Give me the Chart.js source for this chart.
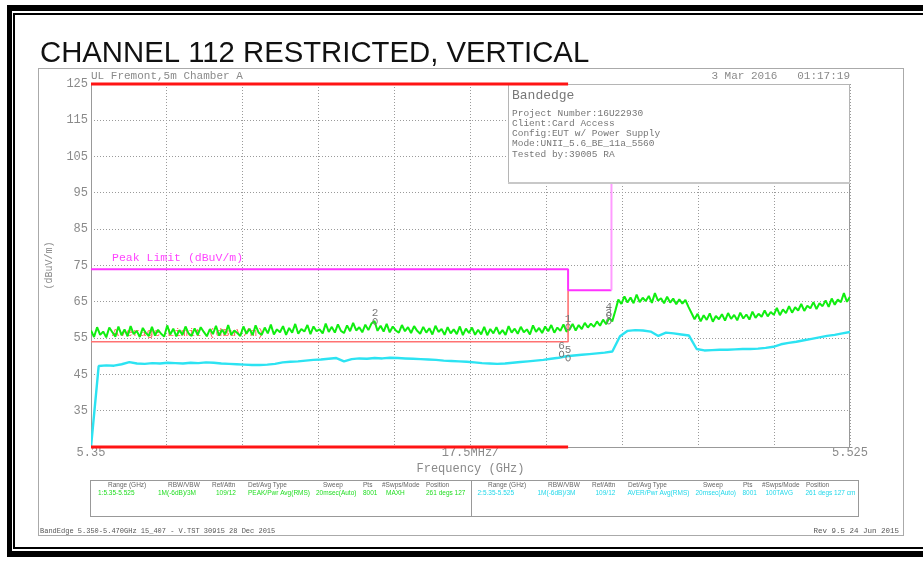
<!DOCTYPE html>
<html><head><meta charset="utf-8">
<script src="https://cdn.jsdelivr.net/npm/chart.js@4/dist/chart.umd.min.js"></script>
<style>html,body{margin:0;padding:0;background:#fff;}canvas{display:block;}</style>
</head><body>
<canvas id="c" width="923" height="562"></canvas>
<script>
// ---------------- DATA ----------------
const titleText = 'CHANNEL 112 RESTRICTED, VERTICAL';
const siteText = 'UL Fremont,5m Chamber A';
const dateText = '3 Mar 2016   01:17:19';
const yAxisTitle = '(dBuV/m)';
const xAxisTitle = 'Frequency (GHz)';
const yTickValues = [25, 35, 45, 55, 65, 75, 85, 95, 105, 115, 125];
const xTickValues = [5.35, 5.3675, 5.385, 5.4025, 5.42, 5.4375, 5.455, 5.4725, 5.49, 5.5075, 5.525];
const xTickLabels = ['5.35', '', '', '', '', '17.5MHz/', '', '', '', '', '5.525'];

const sweepStart = 5.35, sweepStop = 5.525;
// Peak (max hold) trace, dBuV/m, evenly spaced sweep points
const peakTrace = [
  57.1,55.3,58.0,55.9,56.8,55.2,57.9,56.6,55.4,58.2,
  55.8,57.4,55.5,58.3,56.1,57.0,55.3,57.8,56.4,55.6,
  58.1,55.7,57.3,56.2,55.4,58.5,56.0,57.6,55.5,57.2,
  55.9,58.2,56.3,55.6,57.7,55.8,58.0,56.7,55.5,57.5,
  56.1,58.4,55.7,57.3,56.0,58.6,55.9,57.1,56.4,55.6,
  58.2,56.2,57.6,55.8,58.5,56.5,55.9,57.9,56.3,58.7,
  56.0,57.4,56.6,58.3,55.9,57.8,56.5,58.9,56.2,57.5,
  56.8,58.6,56.1,58.2,56.9,57.4,56.3,59.0,56.7,58.1,
  56.5,58.8,57.0,56.4,58.5,56.9,59.2,57.1,58.0,56.6,
  58.7,57.2,59.0,59.7,57.0,58.4,56.8,58.9,56.6,58.2,
  57.1,56.5,58.6,56.9,58.0,56.4,58.3,57.0,56.2,58.1,
  56.5,57.7,56.0,58.4,56.7,57.5,55.9,58.0,56.3,57.4,
  56.1,58.2,55.8,57.6,56.4,57.9,55.9,57.3,56.0,58.1,
  55.8,57.5,56.3,58.0,56.1,57.2,55.9,58.3,56.5,57.6,
  56.2,58.1,56.6,57.4,56.0,58.5,56.7,57.8,56.4,58.2,
  56.9,58.6,56.5,57.9,57.0,58.8,56.8,57.4,58.9,57.1,
  58.6,57.5,59.2,57.9,59.0,58.1,59.6,58.4,60.1,58.8,
  60.6,59.6,62.5,65.6,64.4,66.5,64.8,66.2,64.6,67.0,
  64.9,66.1,65.2,66.6,64.7,67.4,65.3,66.0,64.6,66.4,
  64.8,65.9,64.3,65.7,64.5,65.5,63.6,61.9,60.2,61.7,
  59.6,61.3,60.0,61.8,59.5,61.1,60.2,61.6,59.8,61.9,
  60.3,61.4,59.9,62.0,60.4,61.5,60.1,62.3,60.6,61.7,
  60.9,62.6,61.0,62.2,61.4,63.3,61.3,62.9,61.9,63.8,
  62.0,63.5,62.6,64.4,62.5,63.9,63.2,64.9,63.0,64.6,
  63.8,65.4,63.6,65.9,64.2,65.6,64.9,67.4,65.0,66.4
];
// Average trace, dBuV/m, evenly spaced sweep points
const avgTrace = [
  25.0,47.3,47.5,47.4,47.8,48.4,48.0,47.9,48.1,48.0,
  48.2,48.1,48.0,48.2,48.1,48.3,48.2,48.0,47.9,47.8,
  47.7,47.6,47.6,47.7,47.9,48.3,48.5,48.6,48.8,49.0,
  49.1,49.3,49.5,48.6,49.2,49.4,49.3,49.5,49.4,49.6,
  49.5,49.4,49.3,49.2,49.1,49.0,48.8,48.7,48.6,48.5,
  48.3,48.1,48.0,47.9,48.0,48.2,48.4,48.6,48.8,49.0,
  49.3,49.6,50.0,50.2,50.4,50.6,50.8,51.0,51.3,55.5,
  57.0,57.2,57.1,56.8,55.6,56.5,56.3,56.0,55.7,52.0,
  51.6,51.7,51.8,51.8,51.9,52.0,52.0,52.1,52.3,52.6,
  53.3,53.7,54.0,54.4,54.8,55.2,55.6,55.9,56.3,56.7
];
const peakLimitFreq = [5.35, 5.46, 5.46, 5.47];
const peakLimitLevel = [74, 74, 68.2, 68.2];
const peakLimitUpperFreq = [5.47, 5.47];
const peakLimitUpperLevel = [68.2, 125];
const avgLimitFreq = [5.35, 5.46, 5.46];
const avgLimitLevel = [54, 54, 68.2];
const restrictedBandFreq = [5.35, 5.46];
const restrictedTopLevel = [125, 125];
const restrictedBottomLevel = [25, 25];
const peakLimitLabel = 'Peak Limit (dBuV/m)';
const avgLimitLabel = 'Average Limit (dBuV/m)';

const markerIds = ['1', '2', '3', '4', '5', '6'];
const markerFreq = [5.46, 5.4155, 5.4694, 5.4694, 5.46, 5.4585];
const markerLevel = [58.1, 59.6, 59.7, 61.4, 49.5, 50.6];

const infoTitle = 'Bandedge';
const infoLines = ['Project Number:16U22930', 'Client:Card Access', 'Config:EUT w/ Power Supply', 'Mode:UNII_5.6_BE_11a_5560', 'Tested by:39005 RA'];

const tableHeaders = ['Range (GHz)', 'RBW/VBW', 'Ref/Attn', 'Det/Avg Type', 'Sweep', 'Pts', '#Swps/Mode', 'Position'];
const tablePeakValues = ['1:5.35-5.525', '1M(-6dB)/3M', '109/12', 'PEAK/Pwr Avg(RMS)', '20msec(Auto)', '8001', 'MAXH', '261 degs 127'];
const tableAvgValues = ['2:5.35-5.525', '1M(-6dB)/3M', '109/12', 'AVER/Pwr Avg(RMS)', '20msec(Auto)', '8001', '100TAVG', '261 degs 127 cm'];
const footerLeft = 'BandEdge 5.350-5.470GHz 15_407 - V.TST 30915 28 Dec 2015';
const footerRight = 'Rev 9.5 24 Jun 2015';

// ---------------- LAYOUT / STYLE ----------------
const headerX = [108, 168, 212, 248, 323, 363, 382, 426];
const valueX = [98, 158, 216, 248, 316, 363, 386, 426];
const GRAY = '#8a8a8a';
const MONO = '"Liberation Mono", "DejaVu Sans Mono", monospace';

function sweep(values) {
  const n = values.length;
  return values.map((v, i) => ({x: sweepStart + (sweepStop - sweepStart) * i / (n - 1), y: v}));
}
function pairs(fs, ls) { return fs.map((f, i) => ({x: f, y: ls[i]})); }

const decor = {
  id: 'decor',
  beforeDraw(chart) {
    const ctx = chart.ctx;
    ctx.save();
    ctx.fillStyle = '#fff';
    ctx.fillRect(0, 0, chart.width, chart.height);
    // black double frame
    ctx.fillStyle = '#000';
    ctx.fillRect(7, 5, 916, 6);
    ctx.fillRect(7, 5, 5, 552);
    ctx.fillRect(7, 551, 916, 6);
    ctx.fillRect(13, 13, 910, 2);
    ctx.fillRect(13, 13, 2, 536);
    ctx.fillRect(13, 547, 910, 2);
    // gray inner frame
    ctx.strokeStyle = '#aaa'; ctx.lineWidth = 1;
    ctx.strokeRect(38.5, 68.5, 865, 467);
    // title
    ctx.fillStyle = '#111';
    ctx.font = '29.3px "Liberation Sans", Arial, sans-serif';
    ctx.textBaseline = 'alphabetic'; ctx.textAlign = 'left';
    ctx.fillText(titleText, 40, 61.5);
    // header texts
    const a = chart.chartArea;
    ctx.fillStyle = GRAY;
    ctx.font = '11px ' + MONO;
    ctx.textBaseline = 'middle';
    ctx.fillText(siteText, a.left, 76);
    ctx.textAlign = 'right';
    ctx.fillText(dateText, a.right, 76);
    // table
    ctx.strokeStyle = '#999';
    ctx.strokeRect(90.5, 480.5, 768, 36);
    ctx.beginPath(); ctx.moveTo(471.5, 480.5); ctx.lineTo(471.5, 516.5); ctx.stroke();
    ctx.textAlign = 'left';
    ctx.font = '6.5px "Liberation Sans", sans-serif';
    for (let i = 0; i < tableHeaders.length; i++) {
      ctx.fillStyle = '#666';
      ctx.fillText(tableHeaders[i], headerX[i], 485.5);
      ctx.fillText(tableHeaders[i], headerX[i] + 380, 485.5);
      ctx.fillStyle = '#22dd22';
      ctx.fillText(tablePeakValues[i], valueX[i], 493);
      ctx.fillStyle = '#22d8ea';
      ctx.fillText(tableAvgValues[i], valueX[i] + 379.5, 493);
    }
    // footer
    ctx.fillStyle = '#555';
    ctx.font = '7px ' + MONO;
    ctx.fillText(footerLeft, 40, 531.5);
    ctx.textAlign = 'right';
    ctx.font = '7.5px ' + MONO;
    ctx.fillText(footerRight, 899, 531.5);
    ctx.restore();
  },
  beforeDatasetsDraw(chart) {
    const ctx = chart.ctx, a = chart.chartArea;
    ctx.save();
    ctx.strokeStyle = '#999'; ctx.lineWidth = 1;
    ctx.strokeRect(a.left + 0.5, a.top + 0.5, a.right - a.left - 1, a.bottom - a.top);
    ctx.font = '11.5px ' + MONO;
    ctx.textBaseline = 'middle';
    const ys = chart.scales.y;
    ctx.fillStyle = '#ff44ff';
    ctx.fillText(peakLimitLabel, a.left + 21, ys.getPixelForValue(peakLimitLevel[0]) - 11);
    ctx.fillStyle = '#ff6060';
    ctx.fillText(avgLimitLabel, a.left + 21, ys.getPixelForValue(avgLimitLevel[0]) - 9);
    ctx.restore();
  },
  afterDatasetDraw(chart, args) {
    if (args.index !== 2) return;
    const ctx = chart.ctx, a = chart.chartArea;
    ctx.save();
    const L = 508, T = a.top, R = a.right, B = 183;
    ctx.fillStyle = '#fff';
    ctx.fillRect(L, T, R - L, B - T);
    ctx.strokeStyle = '#b5b5b5'; ctx.lineWidth = 1;
    ctx.strokeRect(L + 0.5, T + 0.5, R - L - 1, B - T - 1);
    ctx.fillStyle = '#c8c8c8';
    ctx.fillRect(L, B - 1, R - L, 2);
    ctx.fillStyle = '#777';
    ctx.textBaseline = 'middle'; ctx.textAlign = 'left';
    ctx.font = '13px ' + MONO;
    ctx.fillText(infoTitle, L + 4, 95.5);
    ctx.font = '9.5px ' + MONO;
    infoLines.forEach((t, i) => ctx.fillText(t, L + 4, 113 + i * 10.3));
    ctx.restore();
  },
  afterDatasetsDraw(chart) {
    const ctx = chart.ctx, xs = chart.scales.x, ys = chart.scales.y;
    ctx.save();
    ctx.fillStyle = '#777'; ctx.strokeStyle = '#777'; ctx.lineWidth = 1;
    ctx.font = '11px ' + MONO;
    ctx.textAlign = 'center'; ctx.textBaseline = 'middle';
    for (let i = 0; i < markerIds.length; i++) {
      const px = xs.getPixelForValue(markerFreq[i]);
      const py = ys.getPixelForValue(markerLevel[i]);
      ctx.fillText(markerIds[i], px, py - 8);
      ctx.beginPath();
      ctx.ellipse(px, py, 2.2, 3, 0, 0, Math.PI * 2);
      ctx.stroke();
    }
    ctx.restore();
  }
};

const line = (data, color, width, extra) => Object.assign({
  data, borderColor: color, backgroundColor: color, borderWidth: width,
  showLine: true, pointRadius: 0, pointHoverRadius: 0, fill: false, tension: 0,
  borderJoinStyle: 'bevel'
}, extra || {});

new Chart(document.getElementById('c'), {
  type: 'scatter',
  data: {
    datasets: [
      line(pairs(restrictedBandFreq, restrictedTopLevel), '#ff1414', 3, {clip: 4}),
      line(pairs(restrictedBandFreq, restrictedBottomLevel), '#ff1414', 3, {clip: 4}),
      line(pairs(peakLimitUpperFreq, peakLimitUpperLevel), '#ff9cff', 2),
      line(pairs(peakLimitFreq, peakLimitLevel), '#ff33ff', 2),
      line(pairs(avgLimitFreq, avgLimitLevel), '#ff7272', 1.6),
      line(sweep(peakTrace), '#10ee10', 2),
      line(sweep(avgTrace), '#2ce3f2', 2.4)
    ]
  },
  options: {
    responsive: false,
    devicePixelRatio: 1,
    animation: false,
    events: [],
    layout: {padding: {left: 0, top: 84, right: 73, bottom: 0}},
    plugins: {legend: {display: false}, tooltip: {enabled: false}, title: {display: false}},
    scales: {
      x: {
        type: 'linear', min: sweepStart, max: sweepStop,
        afterBuildTicks: s => { s.ticks = xTickValues.map(v => ({value: v})); },
        afterFit: s => { s.height = 115; },
        ticks: {
          autoSkip: false, maxRotation: 0, padding: -1, color: GRAY,
          font: {family: MONO, size: 12},
          callback: (v, i) => xTickLabels[i]
        },
        grid: {color: '#9a9a9a', drawTicks: false, lineWidth: 1},
        border: {display: false, dash: [1, 2]},
        title: {display: true, text: xAxisTitle, color: GRAY, font: {family: MONO, size: 12}, padding: {top: 0, bottom: 86}}
      },
      y: {
        type: 'linear', min: 25, max: 125,
        afterBuildTicks: s => { s.ticks = yTickValues.map(v => ({value: v})); },
        afterFit: s => { s.width = 91; },
        ticks: {
          padding: 3, color: GRAY, font: {family: MONO, size: 12},
          callback: (v, i) => (i === 0 ? '' : String(v))
        },
        grid: {color: '#9a9a9a', drawTicks: false, lineWidth: 1},
        border: {display: false, dash: [1, 2]},
        title: {display: true, text: yAxisTitle, color: GRAY, font: {family: MONO, size: 10}, padding: {top: 43, bottom: 0}}
      }
    }
  },
  plugins: [decor]
});
</script>
</body></html>
